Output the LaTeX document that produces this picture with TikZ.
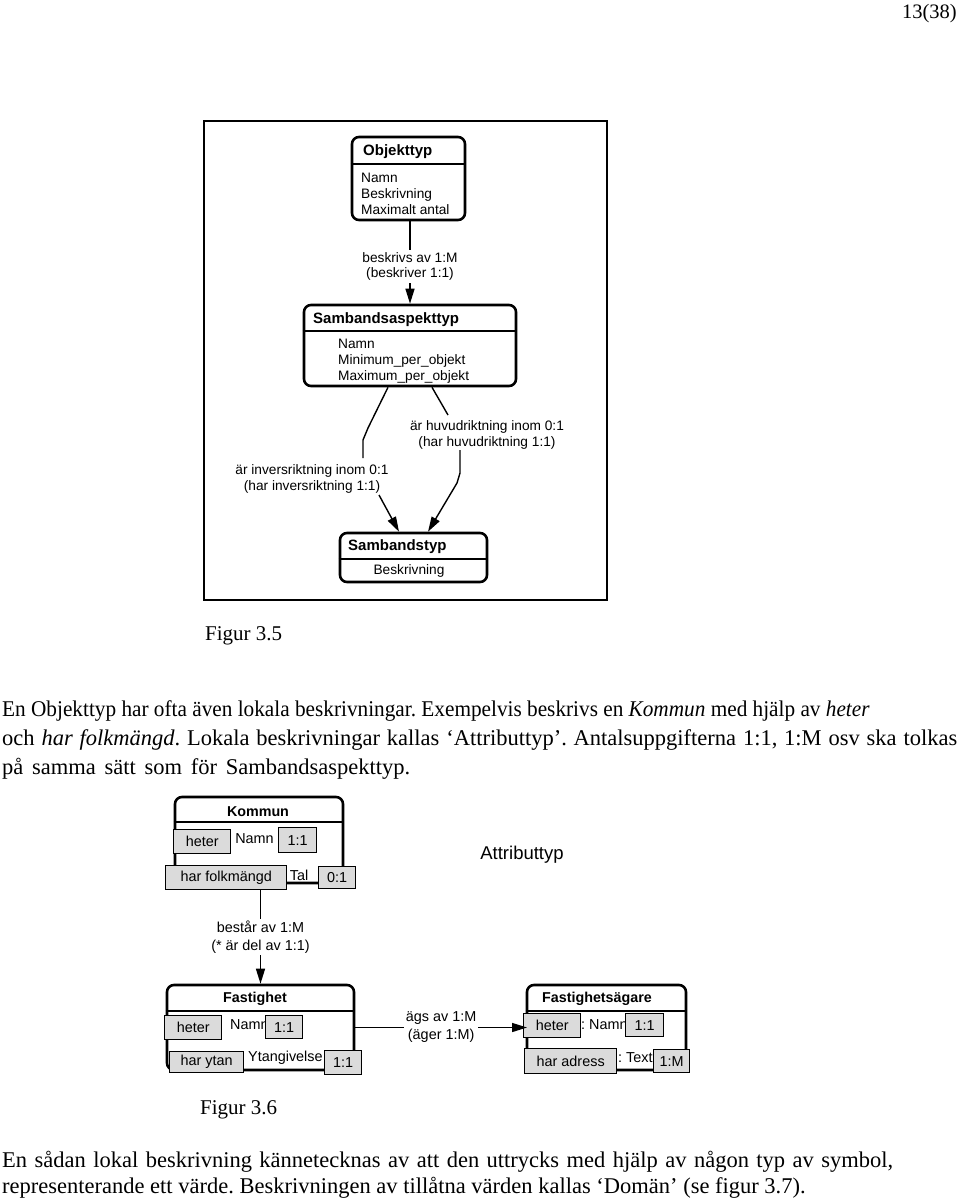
\documentclass[tikz,border=0pt]{standalone}
\usepackage{fontspec}
\usepackage{graphicx}
\setmainfont{Liberation Serif}
\setsansfont{Liberation Sans}
\usetikzlibrary{positioning, arrows.meta, calc}

\begin{document}
\frenchspacing
\begin{tikzpicture}[x=1pt, y=-1pt,
  entity/.style={draw, line width=2.6pt, rounded corners=7pt, inner sep=0pt},
  attr/.style={draw, line width=1.4pt, fill=gray!28, inner sep=0pt, anchor=north west,
    font=\sffamily\fontsize{14.4}{16}\selectfont},
  lbl/.style={fill=white, align=center, inner sep=2pt, font=\sffamily\fontsize{13.7}{15.5}\selectfont},
  lblb/.style={lbl, font=\sffamily\fontsize{14.4}{18}\selectfont},
  head/.style={inner sep=0pt, font=\sffamily\bfseries\fontsize{15}{17}\selectfont},
  headb/.style={head, font=\sffamily\bfseries\fontsize{14.3}{17}\selectfont},
  field/.style={inner sep=0pt, align=left, font=\sffamily\fontsize{13.7}{16}\selectfont},
  fieldb/.style={field, font=\sffamily\fontsize{14.4}{16}\selectfont},
  conn/.style={line width=1.4pt},
  arr/.style={conn, -{Triangle[length=15pt, width=9pt]}},
  body/.style={inner sep=0pt, align=left, anchor=north west, font=\fontsize{22.5}{29}\selectfont},
  caption/.style={inner sep=0pt, anchor=west, font=\fontsize{21}{24}\selectfont}
]
\useasboundingbox (0,0) rectangle (960,1202);

\node[inner sep=0pt, anchor=east, font=\fontsize{20.5}{24}\selectfont] (sida) at (957,14) {13(38)};

% figur 3.5
\draw[line width=1.5pt] (204,121) rectangle (607,600);

\node[entity, minimum width=113, minimum height=83] (objekttyp) at (408.5,178.5) {};
\node[head, anchor=west] (objhead) at (363,152) {Objekttyp};
\node[field, anchor=west] (objfields) at (361,194) {Namn\\Beskrivning\\Maximalt antal};

\node[entity, minimum width=212, minimum height=81] (sasp) at (410,345.5) {};
\node[head, anchor=west] (sasphead) at (313,320) {Sambandsaspekttyp};
\node[field, anchor=west] (saspfields) at (338,361) {Namn\\Minimum\_per\_objekt\\Maximum\_per\_objekt};

\node[entity, minimum width=147, minimum height=49] (styp) at (413.5,557.5) {};
\node[head, anchor=west] (stypheader) at (348,547) {Sambandstyp};
\node[field] (stypfields) at (409,571) {Beskrivning};

\draw[arr] (objekttyp.south -| sasp.north) -- node[lbl, yshift=-4pt] {beskrivs av 1:M\\(beskriver 1:1)} (sasp.north);

\coordinate (i1) at (368,428);
\coordinate (i2) at (363,440);
\coordinate (i3) at (363,458);
\coordinate (i4) at (379,495);
\node[lbl] (inv) at (312,479) {är inversriktning inom 0:1\\(har inversriktning 1:1)};
\draw[conn] ($(sasp.south)+(-22,0)$) -- (i1) -- (i2) -- (i3);
\draw[arr] (i4) -- ($(styp.north)+(-14.5,0)$);

\coordinate (h1) at (448,415);
\coordinate (h2) at (460,450);
\coordinate (h3) at (460,473);
\coordinate (h4) at (457,483);
\node[lbl] (huv) at (487,435) {är huvudriktning inom 0:1\\(har huvudriktning 1:1)};
\draw[conn] ($(sasp.south)+(22,0)$) -- (h1);
\draw[arr] (h2) -- (h3) -- (h4) -- ($(styp.north)+(14.5,0)$);

\node[caption] (fig35) at (205,636) {Figur 3.5};

\node[body] (stycke1) at (2,700) {\scalebox{0.945}[1]{En Objekttyp har ofta även lokala beskrivningar. Exempelvis beskrivs en \textit{Kommun} med hjälp av \textit{heter}}\\
\makebox[955pt][s]{och \textit{har folkmängd}. Lokala beskrivningar kallas `Attributtyp'. Antalsuppgifterna 1:1, 1:M osv ska tolkas}\\
\makebox[408pt][s]{på samma sätt som för Sambandsaspekttyp.}};

% figur 3.6
\node[entity, minimum width=168, minimum height=86] (kommun) at (259,840) {};
\node[headb] (kommunhead) at (258,812) {Kommun};
\node[fieldb] (knamn) at (254.5,839) {Namn};
\node[fieldb] (ktal) at (299,875) {Tal};
\node[attr, minimum width=57, minimum height=24] (kheter) at (173,829) {heter};
\node[attr, minimum width=38, minimum height=25] (knamnant) at (278,827) {1:1};
\node[attr, minimum width=121, minimum height=24] (kfolk) at (165,865) {har folkmängd};
\node[attr, minimum width=37, minimum height=22] (ktalant) at (318,866) {0:1};

\node[font=\sffamily\fontsize{18.5}{20}\selectfont, inner sep=0pt] (attributtyp) at (522,855) {Attributtyp};

\node[entity, minimum width=187, minimum height=85] (fast) at (260.5,1027.5) {};
\node[headb] (fasthead) at (255,999) {Fastighet};
\node[fieldb, anchor=west] (fnamn) at (230,1025) {Namn};
\node[fieldb, anchor=west] (fyta) at (248,1058) {Ytangivelse};
\node[attr, minimum width=57, minimum height=24] (fheter) at (164,1015) {heter};
\node[attr, minimum width=37, minimum height=23] (fnamnant) at (265,1015) {1:1};
\node[attr, minimum width=74, minimum height=21] (fharyta) at (169,1051) {har ytan};
\node[attr, minimum width=37, minimum height=24] (fytaant) at (324,1050) {1:1};

\draw[arr] (kfolk.south -| fast.north) -- node[lblb] {består av 1:M\\(* är del av 1:1)} (fast.north);

\node[entity, minimum width=159, minimum height=85] (fsag) at (606.5,1027.5) {};
\node[headb] (fsaghead) at (597,999) {Fastighetsägare};
\node[fieldb, anchor=west] (fsnamn) at (581,1025) {: Namn};
\node[fieldb, anchor=west] (fstext) at (618,1058) {: Text};
\node[attr, minimum width=57, minimum height=24] (fsheter) at (523,1013) {heter};
\node[attr, minimum width=38, minimum height=23] (fsnamnant) at (625,1013) {1:1};
\node[attr, minimum width=92, minimum height=25] (fsadress) at (524,1048) {har adress};
\node[attr, minimum width=36, minimum height=23] (fsadressant) at (653,1049) {1:M};

\draw[arr] (fast.east) -- node[lblb] {ägs av 1:M\\(äger 1:M)} ($(fast.east -| fsheter.west)+(4,0)$);

\foreach \e/\h in {objekttyp/28, sasp/27, styp/27, kommun/26, fast/27, fsag/27}
  \draw[line width=2pt] ($(\e.north west)+(0,\h)$) -- ($(\e.north east)+(0,\h)$);

\node[caption] (fig36) at (200,1110) {Figur 3.6};

\node[body, font=\fontsize{22.5}{26}\selectfont] (stycke2) at (2,1151) {\makebox[891pt][s]{En sådan lokal beskrivning kännetecknas av att den uttrycks med hjälp av någon typ av symbol,}\\
representerande ett värde. Beskrivningen av tillåtna värden kallas `Domän' (se figur 3.7).};
\end{tikzpicture}
\end{document}
